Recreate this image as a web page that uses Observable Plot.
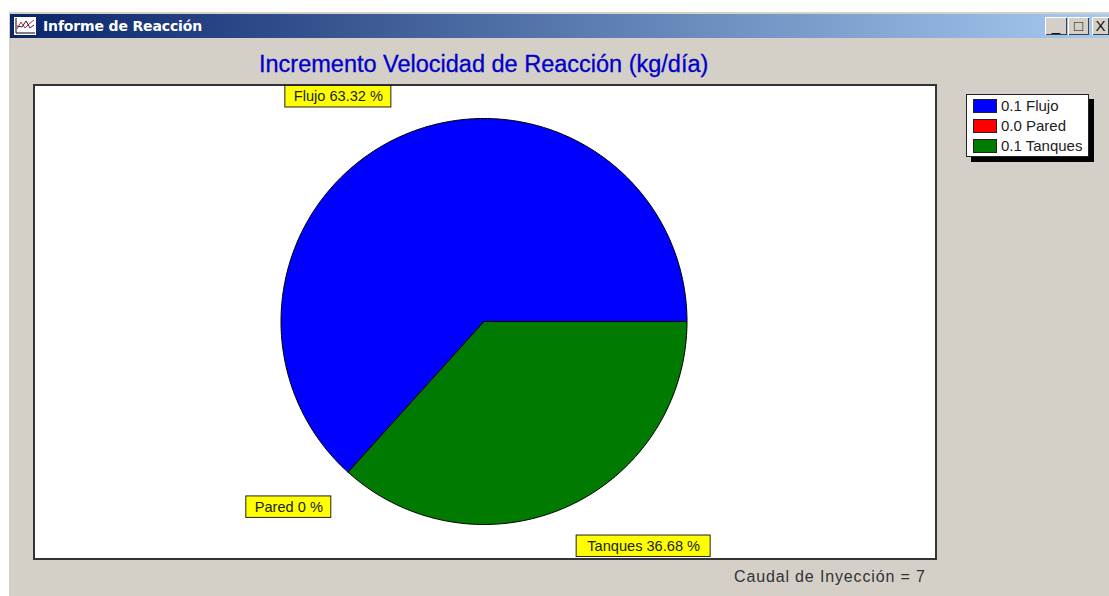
<!DOCTYPE html>
<html><head><meta charset="utf-8">
<script src="https://cdn.jsdelivr.net/npm/d3@7"></script>
<script src="https://cdn.jsdelivr.net/npm/@observablehq/plot@0.6"></script>
<style>
html,body{margin:0;padding:0;background:#fff;overflow:hidden}
#page{position:relative;width:1109px;height:596px;overflow:hidden;font-family:"Liberation Sans",Arial,sans-serif}
#win{position:absolute;left:9px;top:12px;right:0;bottom:0;background:#d4d0c8}
#bar{position:absolute;left:10px;top:14px;right:0;height:24px;background:linear-gradient(90deg,#0a246a,#a6caf0)}
#cap{position:absolute;left:43px;top:18px;color:#fff;font:bold 14px "DejaVu Sans",sans-serif;line-height:16px;letter-spacing:-.15px;white-space:nowrap}
#ico{position:absolute;left:14px;top:17px;width:22px;height:18px;background:#fff}
.b{position:absolute;top:17px;height:18px;background:#d4d0c8;box-shadow:inset 1px 1px 0 #fff,inset -1px -1px 0 #404040;color:#111;text-align:center;font:15px/18px "Liberation Sans",sans-serif}
#title{position:absolute;left:259px;top:50px;color:#0000c8;font-size:23.5px;-webkit-text-stroke:.3px #0000c8;line-height:28px;white-space:nowrap}
#frame{position:absolute;left:33px;top:84px;width:900px;height:472px;border:2px solid #333;background:#fff}
#frame svg{display:block}
#legend{position:absolute;left:966px;top:94px;width:121px;height:61px;border:1px solid #222;background:#fff;box-shadow:5px 5px 0 #000;font-size:15px;color:#222}
.li{position:absolute;left:6px;height:14px;line-height:14px;white-space:nowrap}
.sw{display:inline-block;width:22px;height:12px;border:1px solid #222;vertical-align:top;margin-right:4px}
#foot{position:absolute;left:734px;top:567px;font-size:16px;line-height:20px;letter-spacing:.85px;color:#333;white-space:nowrap}
</style></head><body>
<div id="page">
  <div id="win"></div><div id="bar"></div>
  <div id="ico"><svg width="22" height="18"><path d="M2 1V16H21" fill="none" stroke="#000"/><path d="M3 12L7 5L11 11L15 7L20 3" fill="none" stroke="#d22"/><path d="M3 9L8 10L12 4L16 11L20 8" fill="none" stroke="#226"/></svg></div>
  <div id="cap">Informe de Reacción</div>
  <div class="b" style="left:1045px;width:22px">_</div>
  <div class="b" style="left:1068px;width:21px">□</div>
  <div class="b" style="left:1092px;width:17px">X</div>
  <div id="title">Incremento Velocidad de Reacción (kg/día)</div>
  <div id="frame"></div>
  <div id="legend"></div>
  <div id="foot"></div>
</div>
<script>
const categories = ["Flujo", "Pared", "Tanques"];
const percents = [63.32, 0, 36.68];
const percentText = ["63.32", "0", "36.68"];
const legendValues = ["0.1", "0.0", "0.1"];
const colors = ["#0000ff", "#ff0000", "#007a00"];
const footer = "Caudal de Inyección = 7";

// layout in pixels (inner frame 900x472, origin at page 35,86)
const W = 900, H = 472, R = 203, cx = 483.5 - 35, cy = 321 - 86;
const labelW = [106, 85, 134], labelH = 21.5, rx = 228, ry = 246, nudgeY = [0, 3, 0];

const rad = d => d * Math.PI / 180;
let acc = 0;
const wedges = [], labels = [];
percents.forEach((p, i) => {
  const a0 = acc * 3.6, a1 = (acc + p) * 3.6, mid = (a0 + a1) / 2;
  acc += p;
  if (p > 0) {
    wedges.push({c: categories[i], x: 0, y: 0});
    const n = Math.ceil(a1 - a0);
    for (let k = 0; k <= n; k++) {
      const t = rad(a0 + (a1 - a0) * k / n);
      wedges.push({c: categories[i], x: Math.cos(t), y: Math.sin(t)});
    }
    wedges.push({c: categories[i], x: 0, y: 0});
  }
  const ex = Math.cos(rad(mid)) * rx / R;
  const my = (Math.sin(rad(mid)) * ry - nudgeY[i]) / R;
  const w = labelW[i] / R;
  const x1 = ex < 0 ? ex - w : ex, x2 = ex < 0 ? ex : ex + w;
  labels.push({text: `${categories[i]} ${percentText[i]} %`, x1, x2, xm: (x1 + x2) / 2, y: my,
               y1: my - labelH / 2 / R, y2: my + labelH / 2 / R});
});

const chart = Plot.plot({
  width: W, height: H, margin: 0,
  style: {background: "#fff", overflow: "visible"},
  x: {domain: [-cx / R, (W - cx) / R], range: [0, W], axis: null},
  y: {domain: [-(H - cy) / R, cy / R], range: [H, 0], axis: null},
  color: {domain: categories, range: colors},
  marks: [
    Plot.line(wedges, {x: "x", y: "y", z: "c", fill: "c", stroke: "#000", strokeWidth: 1, curve: "linear"}),
    Plot.rect(labels, {x1: "x1", x2: "x2", y1: "y1", y2: "y2", fill: "#ffff00", stroke: "#222", strokeWidth: 1}),
    Plot.text(labels, {x: "xm", y: "y", text: "text", fontSize: 14.6, fill: "#222",
                       fontFamily: "Liberation Sans, Arial, sans-serif"})
  ]
});
document.getElementById("frame").append(chart);

const legend = document.getElementById("legend");
categories.forEach((c, i) => {
  const row = document.createElement("div");
  row.className = "li";
  row.style.top = (4 + i * 20) + "px";
  row.innerHTML = `<span class="sw" style="background:${colors[i]}"></span>${legendValues[i]} ${c}`;
  legend.append(row);
});
document.getElementById("foot").textContent = footer;
</script>
</body></html>
